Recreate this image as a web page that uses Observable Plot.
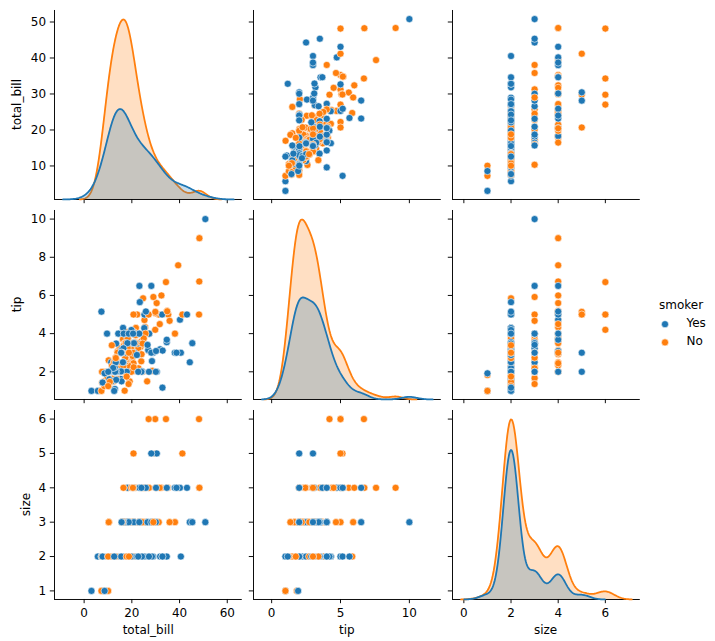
<!DOCTYPE html>
<html><head><meta charset="utf-8">
<script src="https://cdn.jsdelivr.net/npm/d3@7"></script>
<script src="https://cdn.jsdelivr.net/npm/@observablehq/plot@0.6"></script>
<style>
body{margin:0;background:#fff;}
#chart{position:relative;width:715px;height:641px;font-family:"DejaVu Sans";background:#fff;overflow:hidden;}
#chart svg{position:absolute;overflow:visible;max-width:none;}
</style></head><body><div id="chart"></div>
<script>
const totalBill = [16.99,10.34,21.01,23.68,24.59,25.29,8.77,26.88,15.04,14.78,
10.27,35.26,15.42,18.43,14.83,21.58,10.33,16.29,16.97,20.65,
17.92,20.29,15.77,39.42,19.82,17.81,13.37,12.69,21.7,19.65,
9.55,18.35,15.06,20.69,17.78,24.06,16.31,16.93,18.69,31.27,
16.04,17.46,13.94,9.68,30.4,18.29,22.23,32.4,28.55,18.04,
12.54,10.29,34.81,9.94,25.56,19.49,38.01,26.41,11.24,48.27,
20.29,13.81,11.02,18.29,17.59,20.08,16.45,3.07,20.23,15.01,
12.02,17.07,26.86,25.28,14.73,10.51,17.92,27.2,22.76,17.29,
19.44,16.66,10.07,32.68,15.98,34.83,13.03,18.28,24.71,21.16,
28.97,22.49,5.75,16.32,22.75,40.17,27.28,12.03,21.01,12.46,
11.35,15.38,44.3,22.42,20.92,15.36,20.49,25.21,18.24,14.31,
14.0,7.25,38.07,23.95,25.71,17.31,29.93,10.65,12.43,24.08,
11.69,13.42,14.26,15.95,12.48,29.8,8.52,14.52,11.38,22.82,
19.08,20.27,11.17,12.26,18.26,8.51,10.33,14.15,16.0,13.16,
17.47,34.3,41.19,27.05,16.43,8.35,18.64,11.87,9.78,7.51,
14.07,13.13,17.26,24.55,19.77,29.85,48.17,25.0,13.39,16.49,
21.5,12.66,16.21,13.81,17.51,24.52,20.76,31.71,10.59,10.63,
50.81,15.81,7.25,31.85,16.82,32.9,17.89,14.48,9.6,34.63,
34.65,23.33,45.35,23.17,40.55,20.69,20.9,30.46,18.15,23.1,
15.69,19.81,28.44,15.48,16.58,7.56,10.34,43.11,13.0,13.51,
18.71,12.74,13.0,16.4,20.53,16.47,26.59,38.73,24.27,12.76,
30.06,25.89,48.33,13.27,28.17,12.9,28.15,11.59,7.74,30.14,
12.16,13.42,8.58,15.98,13.42,16.27,10.09,20.45,13.28,22.12,
24.01,15.69,11.61,10.77,15.53,10.07,12.6,32.83,35.83,29.03,
27.18,22.67,17.82,18.78];

const tip = [1.01,1.66,3.5,3.31,3.61,4.71,2.0,3.12,1.96,3.23,
1.71,5.0,1.57,3.0,3.02,3.92,1.67,3.71,3.5,3.35,
4.08,2.75,2.23,7.58,3.18,2.34,2.0,2.0,4.3,3.0,
1.45,2.5,3.0,2.45,3.27,3.6,2.0,3.07,2.31,5.0,
2.24,2.54,3.06,1.32,5.6,3.0,5.0,6.0,2.05,3.0,
2.5,2.6,5.2,1.56,4.34,3.51,3.0,1.5,1.76,6.73,
3.21,2.0,1.98,3.76,2.64,3.15,2.47,1.0,2.01,2.09,
1.97,3.0,3.14,5.0,2.2,1.25,3.08,4.0,3.0,2.71,
3.0,3.4,1.83,5.0,2.03,5.17,2.0,4.0,5.85,3.0,
3.0,3.5,1.0,4.3,3.25,4.73,4.0,1.5,3.0,1.5,
2.5,3.0,2.5,3.48,4.08,1.64,4.06,4.29,3.76,4.0,
3.0,1.0,4.0,2.55,4.0,3.5,5.07,1.5,1.8,2.92,
2.31,1.68,2.5,2.0,2.52,4.2,1.48,2.0,2.0,2.18,
1.5,2.83,1.5,2.0,3.25,1.25,2.0,2.0,2.0,2.75,
3.5,6.7,5.0,5.0,2.3,1.5,1.36,1.63,1.73,2.0,
2.5,2.0,2.74,2.0,2.0,5.14,5.0,3.75,2.61,2.0,
3.5,2.5,2.0,2.0,3.0,3.48,2.24,4.5,1.61,2.0,
10.0,3.16,5.15,3.18,4.0,3.11,2.0,2.0,4.0,3.55,
3.68,5.65,3.5,6.5,3.0,5.0,3.5,2.0,3.5,4.0,
1.5,4.19,2.56,2.02,4.0,1.44,2.0,5.0,2.0,2.0,
4.0,2.01,2.0,2.5,4.0,3.23,3.41,3.0,2.03,2.23,
2.0,5.16,9.0,2.5,6.5,1.1,3.0,1.5,1.44,3.09,
2.2,3.48,1.92,3.0,1.58,2.5,2.0,3.0,2.72,2.88,
2.0,3.0,3.39,1.47,3.0,1.25,1.0,1.17,4.67,5.92,
2.0,2.0,1.75,3.0];

const size = [2,3,3,2,4,4,2,4,2,2,
2,4,2,4,2,2,3,3,3,3,
2,2,2,4,2,4,2,2,2,2,
2,4,2,4,2,3,3,3,3,3,
3,2,2,2,4,2,2,4,3,2,
2,2,4,2,4,2,4,2,2,4,
2,2,2,4,3,3,2,1,2,2,
2,3,2,2,2,2,2,4,2,2,
2,2,1,2,2,4,2,2,2,2,
2,2,2,2,2,4,2,2,2,2,
2,2,3,2,2,2,2,2,2,2,
2,1,3,2,3,2,4,2,2,4,
2,2,2,2,2,6,2,2,2,3,
2,2,2,2,2,2,2,2,2,2,
2,6,5,6,2,2,3,2,2,2,
2,2,3,4,4,5,6,4,2,4,
4,2,3,2,2,3,2,4,2,2,
3,2,2,2,2,2,2,2,2,2,
4,2,3,4,2,5,3,5,3,3,
2,2,2,2,2,2,2,4,2,2,
3,2,2,2,4,3,3,4,2,2,
3,4,4,2,3,2,5,2,2,4,
2,2,1,3,2,2,2,4,2,2,
4,3,2,2,2,2,2,2,3,3,
2,2,2,2];

const smoker = ["No","No","No","No","No","No","No","No","No","No",
"No","No","No","No","No","No","No","No","No","No",
"No","No","No","No","No","No","No","No","No","No",
"No","No","No","No","No","No","No","No","No","No",
"No","No","No","No","No","No","No","No","No","No",
"No","No","No","No","No","No","Yes","No","Yes","No",
"Yes","Yes","Yes","Yes","No","No","No","Yes","No","Yes",
"No","No","Yes","Yes","No","No","Yes","No","No","No",
"Yes","No","No","Yes","No","No","No","No","No","No",
"Yes","No","Yes","Yes","No","Yes","Yes","Yes","Yes","No",
"Yes","Yes","Yes","Yes","No","Yes","Yes","Yes","No","Yes",
"No","No","No","No","No","No","No","No","No","No",
"No","No","No","No","No","No","No","No","No","No",
"No","No","No","No","No","No","No","No","Yes","No",
"No","No","No","No","No","No","No","No","No","No",
"No","No","No","No","No","No","No","No","No","No",
"No","No","No","No","Yes","No","No","No","Yes","Yes",
"Yes","Yes","Yes","Yes","Yes","Yes","Yes","Yes","Yes","Yes",
"Yes","Yes","Yes","Yes","Yes","No","Yes","Yes","Yes","Yes",
"Yes","Yes","Yes","Yes","Yes","No","Yes","Yes","Yes","Yes",
"Yes","Yes","Yes","Yes","Yes","Yes","Yes","Yes","Yes","Yes",
"Yes","Yes","No","Yes","Yes","Yes","Yes","Yes","Yes","Yes",
"Yes","Yes","Yes","No","Yes","Yes","Yes","No","No","Yes",
"Yes","Yes","No","No","Yes","No","Yes","Yes","No","No",
"Yes","Yes","No","No"];

const variables = ["total_bill", "tip", "size"];
const hueOrder = ["Yes", "No"];
const palette = ["#1f77b4", "#ff7f0e"];
const xTicks = {total_bill: [0, 20, 40, 60], tip: [0, 5, 10], size: [0, 2, 4, 6]};
const yTicks = {total_bill: [10, 20, 30, 40, 50], tip: [2, 4, 6, 8, 10], size: [1, 2, 3, 4, 5, 6]};

// ---- derived table ----
const N = totalBill.length;
const columns = {total_bill: totalBill, tip: tip, size: size};
const records = d3.range(N).map(i => ({total_bill: totalBill[i], tip: tip[i], size: size[i], smoker: smoker[i]}));

// Gaussian KDE (Scott bandwidth, cut = 3, 200 grid points, common normalisation)
function gaussianKde(values, nTotal) {
  const n = values.length;
  const bw = d3.deviation(values) * Math.pow(n, -0.2);
  const lo = d3.min(values) - 3 * bw, hi = d3.max(values) + 3 * bw;
  const c = 1 / (bw * Math.sqrt(2 * Math.PI) * nTotal);
  return d3.range(200).map(k => {
    const x = lo + (hi - lo) * k / 199;
    return {x, density: c * d3.sum(values, v => Math.exp(-0.5 * ((x - v) / bw) ** 2))};
  });
}
const kdes = {};
for (const v of variables) {
  kdes[v] = hueOrder.map(h => gaussianKde(records.filter(r => r.smoker === h).map(r => r[v]), N));
}
const pad5 = ([a, b]) => { const d = (b - a) * 0.05; return [a - d, b + d]; };
const xDomain = {}, yDomain = {}, densMax = {};
for (const v of variables) {
  const vals = columns[v], curves = kdes[v];
  const lo = Math.min(d3.min(vals), ...curves.map(c => c[0].x));
  const hi = Math.max(d3.max(vals), ...curves.map(c => c[c.length - 1].x));
  xDomain[v] = pad5([lo, hi]);
  yDomain[v] = pad5(d3.extent(vals));
  densMax[v] = d3.max(curves, c => d3.max(c, p => p.density));
}

// ---- layout ----
const colLeft = [54.3, 253, 451.7], panelW = 187.8;
const rowTop = [10, 210, 410], panelH = 189;
const M = {top: 10, right: 10, bottom: 45, left: 60};
const W = panelW + M.left + M.right, H = panelH + M.top + M.bottom;
const chart = document.getElementById("chart");
const baseOpts = {
  width: W, height: H, marginLeft: M.left, marginRight: M.right, marginTop: M.top, marginBottom: M.bottom,
  style: {fontFamily: "DejaVu Sans", fontSize: "12px", color: "black", background: "transparent", overflow: "visible"}
};
function place(svg, i, j) {
  svg.style.position = "absolute";
  svg.style.left = (colLeft[j] - M.left) + "px";
  svg.style.top = (rowTop[i] - M.top) + "px";
  chart.appendChild(svg);
}
const diagSvgs = [];
for (let i = 0; i < 3; i++) {
  for (let j = 0; j < 3; j++) {
    const vx = variables[j], vy = variables[i];
    const marks = [
      Plot.axisX(xTicks[vx], {tickSize: 4.2, tickPadding: 4.5, tickFormat: i === 2 ? (d => String(d)) : (() => ""), label: null, strokeWidth: 0.95}),
      Plot.axisY(yTicks[vy], {tickSize: 4.2, tickPadding: 4.2, tickFormat: j === 0 ? (d => String(d)) : (() => ""), label: null, strokeWidth: 0.95}),
      Plot.ruleX([xDomain[vx][0]], {stroke: "black", strokeWidth: 0.95}),
      Plot.ruleY([yDomain[vy][0]], {stroke: "black", strokeWidth: 0.95})
    ];
    if (i !== j) {
      marks.push(Plot.dot(records, {x: vx, y: vy, fill: "smoker", r: 3.56, stroke: "white", strokeWidth: 0.6}));
    }
    const svg = Plot.plot({...baseOpts,
      x: {domain: xDomain[vx]}, y: {domain: yDomain[vy]},
      color: {domain: hueOrder, range: palette},
      marks});
    place(svg, i, j);
    if (i === j) {
      const dm = [];
      for (let k = hueOrder.length - 1; k >= 0; k--) {
        dm.push(Plot.areaY(kdes[vx][k], {x: "x", y: "density", fill: palette[k], fillOpacity: 0.25}));
        dm.push(Plot.lineY(kdes[vx][k], {x: "x", y: "density", stroke: palette[k], strokeWidth: 1.78}));
      }
      const dsvg = Plot.plot({...baseOpts,
        x: {domain: xDomain[vx], axis: null},
        y: {domain: [0, densMax[vx] * 1.05], axis: null},
        marks: dm});
      diagSvgs.push([dsvg, i, j]);
    }
  }
}
for (const [s, i, j] of diagSvgs) place(s, i, j);

// ---- axis titles and legend ----
const overlay = d3.select(chart).append("svg")
  .attr("width", 715).attr("height", 641)
  .style("left", "0px").style("top", "0px")
  .style("font-family", "DejaVu Sans").style("font-size", "12px");
const ylabX = [20.5, 20.5, 29.5];
variables.forEach((v, i) => {
  overlay.append("text").attr("text-anchor", "middle")
    .attr("transform", `translate(${ylabX[i]},${rowTop[i] + panelH / 2}) rotate(-90)`)
    .text(v);
  overlay.append("text").attr("text-anchor", "middle")
    .attr("x", colLeft[i] + panelW / 2).attr("y", 634)
    .text(v);
});
const leg = overlay.append("g");
leg.append("text").attr("x", 659).attr("y", 309).text("smoker");
hueOrder.forEach((h, k) => {
  const y = 324.2 + k * 18.2;
  leg.append("circle").attr("cx", 665).attr("cy", y).attr("r", 3.56)
    .attr("fill", palette[k]).attr("stroke", "white").attr("stroke-width", 0.6);
  leg.append("text").attr("x", 686.5).attr("y", y + 2.6).text(h);
});
</script></body></html>
